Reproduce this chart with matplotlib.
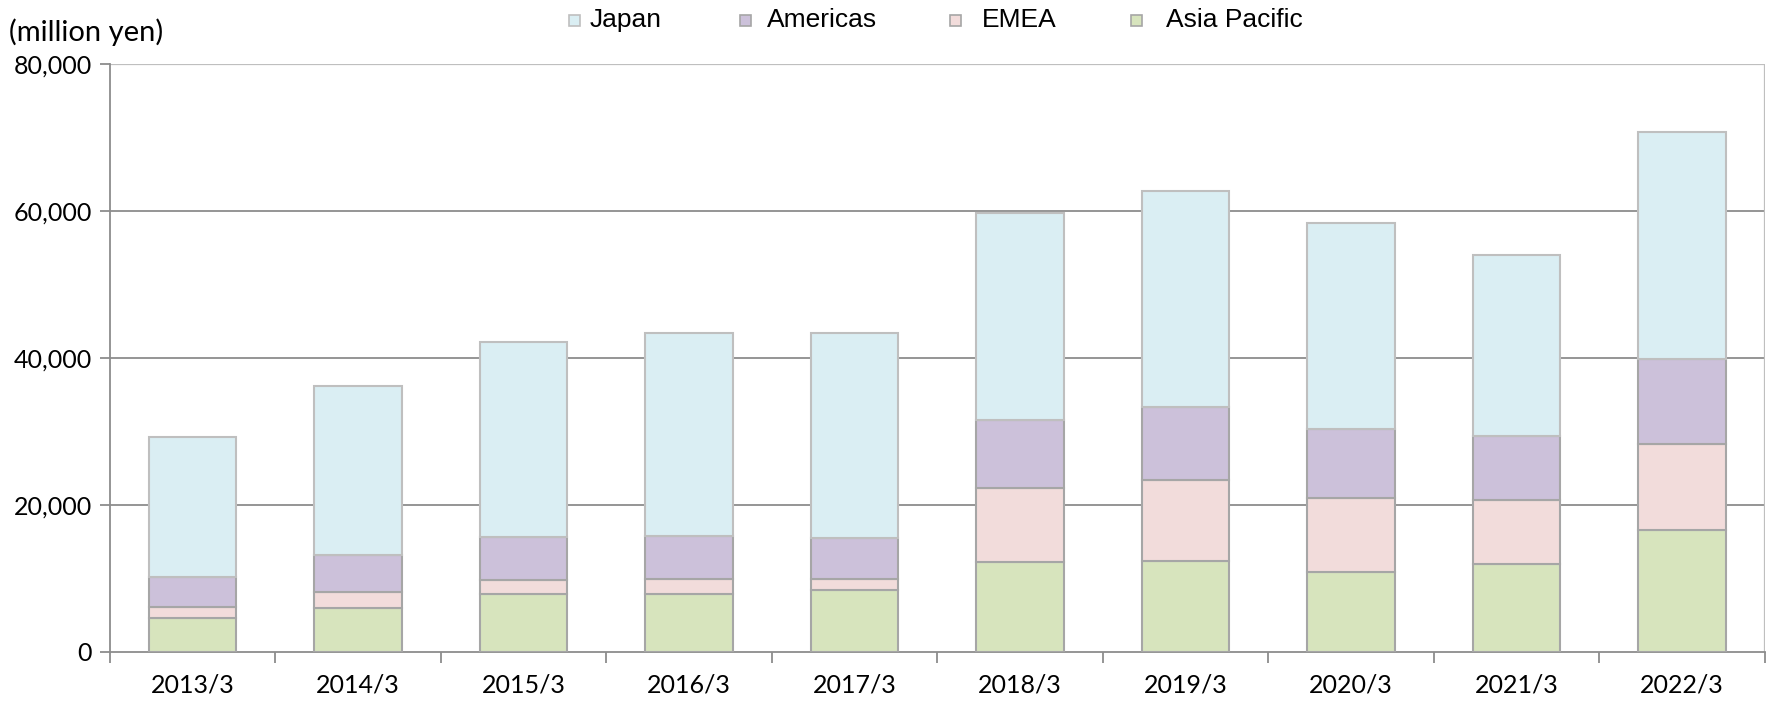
import matplotlib
matplotlib.use("Agg")
import matplotlib.pyplot as plt
from matplotlib.patches import Rectangle
import numpy as np

years = ["2013/3", "2014/3", "2015/3", "2016/3", "2017/3",
         "2018/3", "2019/3", "2020/3", "2021/3", "2022/3"]
asia_pacific = [4640, 6000, 7800, 7860, 8410, 12230, 12390, 10800, 11900, 16580]
emea = [1500, 2180, 1970, 2000, 1540, 10130, 10980, 10160, 8820, 11760]
americas = [4090, 5000, 5820, 5960, 5500, 9140, 9980, 9400, 8680, 11560]
japan = [19070, 23070, 26560, 27660, 28030, 28200, 29450, 28050, 24670, 30880]

series_names = ["Japan", "Americas", "EMEA", "Asia Pacific"]
y_ticks = [0, 20000, 40000, 60000, 80000]

col_japan = "#DAEEF3"
col_amer = "#CCC1DA"
col_emea = "#F2DCDB"
col_asia = "#D7E4BD"

fig = plt.figure(figsize=(17.72, 7.04), dpi=100)
ax = fig.add_axes([0.0619, 0.0743, 0.9341, 0.8342])

x = np.arange(len(years))
w = 0.53
edge = "#A6A6A6"
lw = 1.5
b1 = np.array(asia_pacific)
b2 = b1 + np.array(emea)
b3 = b2 + np.array(americas)
ax.bar(x, asia_pacific, w, color=col_asia, edgecolor=edge, linewidth=lw, zorder=3)
ax.bar(x, emea, w, bottom=b1, color=col_emea, edgecolor=edge, linewidth=lw, zorder=3)
ax.bar(x, americas, w, bottom=b2, color=col_amer, edgecolor=edge, linewidth=lw, zorder=3)
ax.bar(x, japan, w, bottom=b3, color=col_japan, edgecolor="#BFBFBF", linewidth=lw, zorder=3)

ax.set_xlim(-0.5, len(years) - 0.5)
ax.set_ylim(0, 80000)

for v in y_ticks[1:-1]:
    ax.axhline(v, color="#8C8C8C", linewidth=1.3, zorder=1)
ax.axhline(80000, color="#BFBFBF", linewidth=1.6, zorder=1)

for s in ["top", "right"]:
    ax.spines[s].set_visible(False)
ax.axvline(len(years) - 0.5, color="#BFBFBF", linewidth=1.6, zorder=1)
ax.spines["left"].set_color("#8C8C8C")
ax.spines["bottom"].set_color("#8C8C8C")
ax.spines["left"].set_linewidth(1.3)
ax.spines["bottom"].set_linewidth(1.3)

tick_font = "Lato"
ax.set_yticks(y_ticks)
ax.set_yticklabels([f"{v:,}" for v in y_ticks], fontsize=18, family=tick_font)
ax.tick_params(axis="y", length=7, width=1.3, color="#8C8C8C", pad=6)

ax.set_xticks(x)
ax.set_xticklabels(years, fontsize=18, family=tick_font)
ax.set_xticks(np.arange(-0.5, len(years)), minor=True)
ax.tick_params(axis="x", which="major", length=0, pad=16)
ax.tick_params(axis="x", which="minor", length=8, width=1.3, color="#8C8C8C")

fig.text(9 / 1772, 1 - 32 / 704, "(million yen)", fontsize=21, family=tick_font,
         va="center", ha="left")

# legend
leg_font = "Liberation Sans"
leg_y = 1 - 20 / 704
sq = 11
items = [
    (series_names[0], col_japan, "#BFBFBF", 569, 590),
    (series_names[1], col_amer, edge, 740, 767),
    (series_names[2], col_emea, edge, 950, 982),
    (series_names[3], col_asia, edge, 1131, 1166),
]
for name, fc, ec, sx, tx in items:
    fig.add_artist(Rectangle((sx / 1772, leg_y - sq / 2 / 704), sq / 1772, sq / 704,
                             transform=fig.transFigure, facecolor=fc, edgecolor=ec,
                             linewidth=1.2))
    fig.text(tx / 1772, leg_y, name, fontsize=19, family=leg_font, va="center", ha="left")

fig.savefig("out.png", dpi=100, facecolor="white")
